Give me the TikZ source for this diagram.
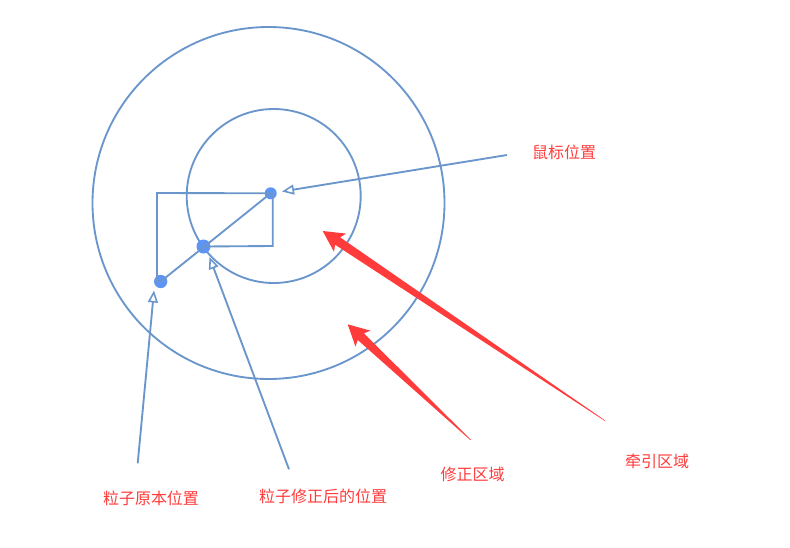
\documentclass[tikz,border=0pt]{standalone}
\usepackage{fontspec}
\newfontfamily\cjk{Noto Sans CJK SC}
\usetikzlibrary{arrows.meta}
\definecolor{lineblue}{HTML}{6A96CC}
\definecolor{dotblue}{HTML}{5E95F5}
\definecolor{redfill}{HTML}{FF3B3B}
\definecolor{redtext}{HTML}{FF3B3B}
\tikzset{
  ring/.style={draw=lineblue, line width=1.4pt},
  bline/.style={draw=lineblue, line width=1.4pt, line join=miter},
  ptr/.style={draw=lineblue, line width=1.4pt, -{Triangle[open, length=9pt, width=7.5pt, line width=1.2pt]}},
  dot/.style={circle, fill=dotblue, inner sep=0pt, minimum size=#1},
  lbl/.style={font=\cjk\fontsize{12pt}{14pt}\selectfont, text=redtext, inner sep=0pt},
  redarrow/.style={fill=redfill, draw=none}
}
\begin{document}
\begin{tikzpicture}[x=0.75pt, y=-0.75pt]
\useasboundingbox (0,0) rectangle (790,547);
% circles
\draw[ring] (268.5,203) circle[radius=176];
\draw[ring] (273.7,196) circle[radius=87];
% dots
\node[dot=9pt] (mouse) at (270.7,193.3) {};
\node[dot=10.5pt] (corr) at (203.5,246.5) {};
\node[dot=10pt] (orig) at (160.7,281.5) {};
% construction lines
\coordinate (bigcorner) at (157,193);
\coordinate (smallcorner) at (272.7,246);
\draw[bline] (orig.center) -- (mouse.center);
\draw[bline] (orig.center) -- (orig.center -| bigcorner) -- (bigcorner) -- (mouse.center);
\draw[bline] (corr.center) -- (smallcorner) -- (smallcorner |- mouse.center);
% labels
\node[lbl] (lmouse) at (564,152) {鼠标位置};
\node[lbl] (lpull) at (657,461) {牵引区域};
\node[lbl] (lfix) at (472.5,474.5) {修正区域};
\node[lbl] (lorig) at (151,498.5) {粒子原本位置};
\node[lbl] (lcorr) at (323,496) {粒子修正后的位置};
% pointer lines
\coordinate (tmouse) at (507,155);
\coordinate (torig) at (137.7,463.3);
\coordinate (tcorr) at (289,469.3);
\coordinate (hmouse) at (282,191.5);
\coordinate (horig) at (154,290.5);
\coordinate (hcorr) at (209.5,257);
\draw[ptr] (tmouse) -- (hmouse);
\draw[ptr] (torig) -- (horig);
\draw[ptr] (tcorr) -- (hcorr);
% red tapered arrows
\fill[redarrow] (322.7,231) -- (346.2,233.6) -- (340.1,237.3) -- (605.2,420.5) -- (604.8,420.9) -- (335.1,244.7) -- (334.0,251.8) -- cycle;
\fill[redarrow] (347.7,324.3) -- (370.5,330.7) -- (363.9,333.3) -- (470.9,439.8) -- (470.5,440.2) -- (357.7,339.9) -- (355.5,346.7) -- cycle;
\end{tikzpicture}
\end{document}
